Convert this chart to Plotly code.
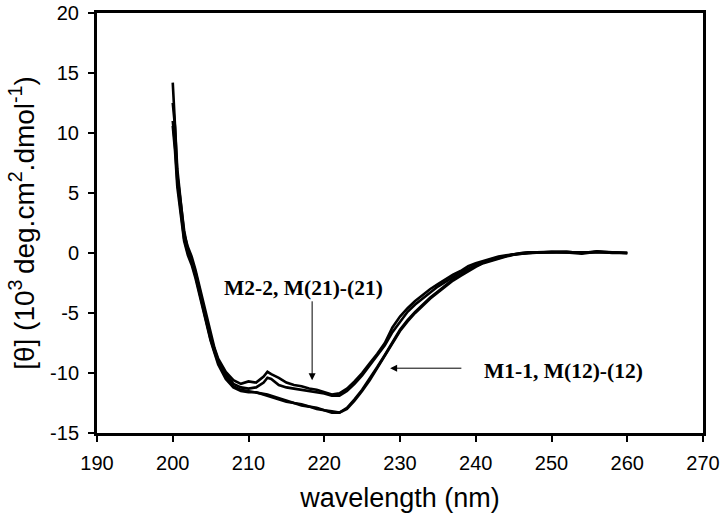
import plotly.graph_objects as go

# wavelengths (nm)
wl = [200, 200.3, 200.6, 201, 201.5, 202, 202.5, 203, 203.5, 204, 204.5, 205, 205.5,
      206, 207, 208, 209, 210, 211, 212, 212.5, 213, 214, 215, 216, 217, 218, 219,
      220, 221, 222, 223, 224, 225, 226, 227, 228, 229, 230, 231, 232, 233, 234,
      235, 236, 237, 238, 239, 240, 241, 242, 243, 244, 245, 246, 247, 248, 250,
      252, 254, 256, 258, 260]

# [theta] (10^3 deg.cm2.dmol-1)
m22 = [14.2, 11.0, 7.0, 4.6, 1.6, 0.5, -0.3, -1.4, -2.7, -4.1, -5.5, -6.8, -7.9,
       -8.8, -9.9, -10.6, -10.9, -10.7, -10.8, -10.3, -9.9, -10.1, -10.4, -10.8, -11.0, -11.1, -11.3, -11.4,
       -11.6, -11.8, -11.7, -11.3, -10.7, -10.0, -9.2, -8.4, -7.5, -6.2, -5.3, -4.6, -4.0, -3.5, -3.0,
       -2.6, -2.2, -1.8, -1.5, -1.1, -0.85, -0.65, -0.45, -0.3, -0.2, -0.1, 0.0, 0.05, 0.05, 0.1,
       0.1, 0.0, 0.15, 0.05, 0.0]
m2121 = [12.5, 10.5, 6.5, 4.2, 1.9, 0.2, -0.6, -1.6, -2.9, -4.3, -5.6, -7.0, -8.0,
         -9.0, -10.1, -10.9, -11.2, -11.3, -11.2, -10.8, -10.4, -10.5, -11.0, -11.2, -11.3, -11.4, -11.5, -11.6,
         -11.7, -11.9, -11.9, -11.5, -10.9, -10.2, -9.4, -8.6, -7.7, -6.6, -5.7, -4.9, -4.3, -3.8, -3.3,
         -2.8, -2.4, -2.0, -1.6, -1.3, -1.0, -0.75, -0.55, -0.35, -0.25, -0.1, 0.0, 0.05, 0.05, 0.1,
         0.1, 0.05, 0.1, 0.05, 0.0]
m11 = [11.0, 9.0, 6.0, 3.8, 1.2, 0.0, -0.8, -1.9, -3.2, -4.5, -5.9, -7.2, -8.2,
       -9.1, -10.3, -11.1, -11.4, -11.5, -11.6, -11.7, -11.8, -11.9, -12.1, -12.3, -12.5, -12.6, -12.8, -12.9,
       -13.1, -13.2, -13.3, -12.9, -12.2, -11.4, -10.5, -9.5, -8.5, -7.4, -6.4, -5.6, -4.9, -4.3, -3.7,
       -3.2, -2.7, -2.2, -1.8, -1.4, -1.1, -0.8, -0.6, -0.4, -0.25, -0.1, -0.05, 0.0, 0.05, 0.1,
       0.05, -0.05, 0.1, 0.05, 0.0]
m1212 = [10.6, 8.5, 5.5, 3.5, 1.0, -0.2, -1.0, -2.1, -3.4, -4.7, -6.1, -7.3, -8.3,
         -9.3, -10.5, -11.2, -11.5, -11.6, -11.6, -11.8, -11.9, -12.0, -12.2, -12.4, -12.5, -12.7, -12.8, -13.0,
         -13.1, -13.3, -13.3, -13.0, -12.3, -11.5, -10.6, -9.6, -8.6, -7.5, -6.5, -5.7, -5.0, -4.4, -3.8,
         -3.3, -2.8, -2.3, -1.9, -1.5, -1.15, -0.85, -0.65, -0.45, -0.3, -0.15, -0.05, 0.0, 0.05, 0.1,
         0.1, 0.0, 0.1, 0.0, 0.0]

series = {"M2-2": m22, "M(21)-(21)": m2121, "M1-1": m11, "M(12)-(12)": m1212}

x_ticks = [190, 200, 210, 220, 230, 240, 250, 260, 270]
y_ticks = [-15, -10, -5, 0, 5, 10, 15, 20]
y_ticktext = ["-15", "-10", "-5", "0", "5", "10", "15", "20"]

fig = go.Figure()
for name, vals in series.items():
    fig.add_trace(go.Scatter(x=wl, y=vals, mode="lines", name=name,
                             line=dict(color="black", width=2.6)))

ann_font = dict(family="Liberation Serif, Times New Roman, serif", size=21.5, color="black")
fig.add_annotation(x=217.2, y=-2.95, xref="x", yref="y", text="<b>M2-2, M(21)-(21)</b>",
                   showarrow=False, font=ann_font)
fig.add_annotation(x=218.4, y=-10.6, ax=218.4, ay=-3.9, xref="x", yref="y", axref="x", ayref="y",
                   text="", showarrow=True, arrowhead=2, arrowsize=1.4, arrowwidth=1, arrowcolor="black")
fig.add_annotation(x=240.8, y=-9.8, xref="x", yref="y", xanchor="left", text="<b>M1-1, M(12)-(12)</b>",
                   showarrow=False, font=ann_font)
fig.add_annotation(x=228.7, y=-9.6, ax=238.3, ay=-9.6, xref="x", yref="y", axref="x", ayref="y",
                   text="", showarrow=True, arrowhead=2, arrowsize=1.4, arrowwidth=1, arrowcolor="black")

axis_common = dict(showline=True, linewidth=3, linecolor="black", mirror=True,
                   ticks="outside", ticklen=6, tickwidth=2, tickcolor="black",
                   showgrid=False, zeroline=False, ticklabeloverflow="allow",
                   tickfont=dict(family="Liberation Sans, Arial, sans-serif", size=20, color="black"))

fig.update_xaxes(range=[190, 270], tickvals=x_ticks, ticklabelstandoff=4,
                 title=dict(text="wavelength (nm)", standoff=16,
                            font=dict(family="Liberation Sans, Arial, sans-serif", size=27, color="black")),
                 **axis_common)
fig.update_yaxes(range=[-15, 20], tickvals=y_ticks, ticktext=y_ticktext, ticklabelstandoff=5,
                 title=dict(text="[θ] (10<sup>3 </sup>deg.cm<sup>2</sup>.dmol<sup>-1</sup>)", standoff=8,
                            font=dict(family="Liberation Sans, Arial, sans-serif", size=28, color="black")),
                 **axis_common)

fig.update_layout(width=720, height=517, showlegend=False,
                  plot_bgcolor="white", paper_bgcolor="white",
                  margin=dict(l=97, r=17, t=13, b=84, autoexpand=False))

fig.write_html("out.html", config={"displayModeBar": False},
               post_script="document.body.style.margin='0';document.body.style.overflow='hidden';")
